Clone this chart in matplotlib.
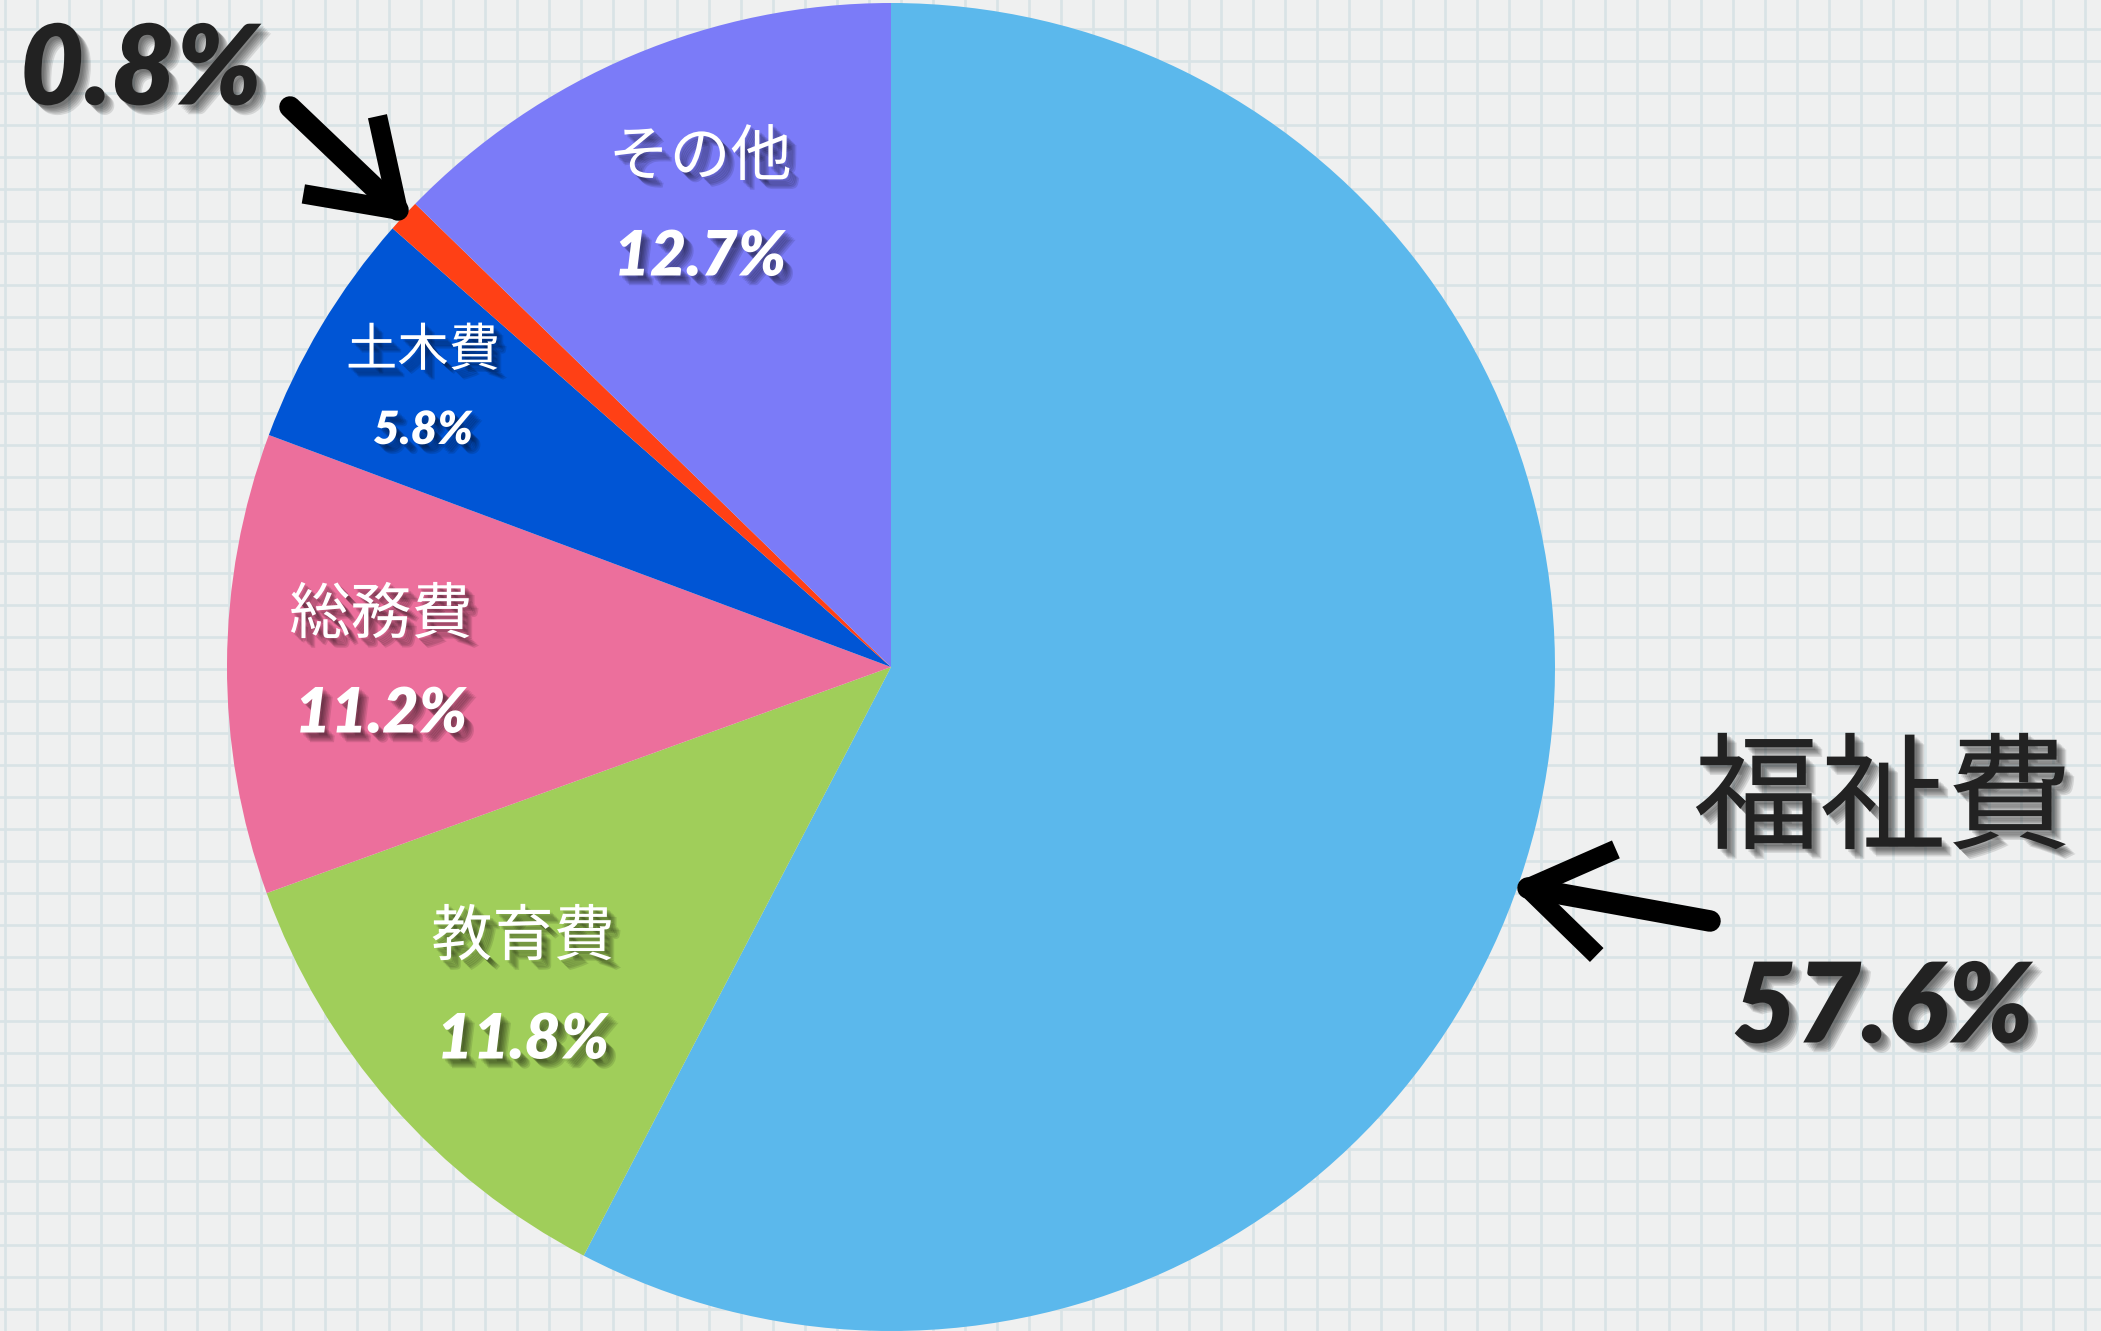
import matplotlib
matplotlib.use("Agg")
import matplotlib.pyplot as plt
import matplotlib.patheffects as pe
import numpy as np

# ---- data ----
categories = ["福祉費", "教育費", "総務費", "土木費", "", "その他"]
shares = [57.6, 11.8, 11.2, 5.8, 0.8, 12.7]
pct_labels = ["57.6%", "11.8%", "11.2%", "5.8%", "0.8%", "12.7%"]
colors = ["#5BB8EC", "#A0CE5A", "#EC6F9C", "#0055D5", "#FF4015", "#7B7BF8"]

W, H = 2101, 1331
fig = plt.figure(figsize=(W / 100, H / 100), dpi=100)
fig.patch.set_facecolor("#EFF0F0")
ax = fig.add_axes([0, 0, 1, 1])

# grid paper background
for x in np.arange(5, W, 32):
    ax.axvline(x, color="#D9E3E6", lw=1.9, zorder=0)
for yy in np.arange(29, H, 32):
    ax.axhline(H - yy, color="#D9E3E6", lw=1.9, zorder=0)

cx, cy, R = 891, H - 667, 664
wedges, _ = ax.pie(shares, colors=colors, startangle=90, counterclock=False,
                   center=(cx, cy), radius=R, frame=True,
                   wedgeprops=dict(linewidth=0))
ax.set_xlim(0, W)
ax.set_ylim(0, H)
ax.set_aspect("equal")
ax.axis("off")

jp = ["Noto Sans CJK JP", "DejaVu Sans"]
num = ["Lato", "DejaVu Sans"]

def shadow(strength=0.11):
    eff = []
    for d in (2, 3, 4, 5, 6, 7):
        eff.append(pe.SimplePatchShadow(offset=(d, -d), shadow_rgbFace="black",
                                        alpha=strength))
    eff.append(pe.Normal())
    return eff

# label positions (pixel coords from top)
name_pos = {"福祉費": (1883, 803, 91, "#222222"),
            "教育費": (523, 938, 44, "white"),
            "総務費": (381, 616, 44, "white"),
            "土木費": (423, 351, 37, "white"),
            "その他": (700, 158, 44, "white")}
pct_pos = [(1883, 1010, 80, "#222222"),
           (523, 1040, 45, "white"),
           (381, 714, 45, "white"),
           (423, 431, 33, "white"),
           (141, 72, 80, "#222222"),
           (700, 257, 45, "white")]

for cat in categories:
    if not cat:
        continue
    x, y, fs, c = name_pos[cat]
    ax.text(x, H - y, cat, ha="center", va="center", fontsize=fs, color=c,
            family=jp, fontweight="normal", path_effects=shadow(), zorder=5)

for lab, (x, y, fs, c) in zip(pct_labels, pct_pos):
    ax.text(x, H - y, lab, ha="center", va="center", fontsize=fs, color=c,
            family=num, fontweight="heavy", style="italic",
            path_effects=shadow(), zorder=5)

# arrows (shaft + chevron head), pixel coords from top
def arrow(tail, tip, head_len=96, half_angle=34):
    x0, y0 = tail[0], H - tail[1]
    x1, y1 = tip[0], H - tip[1]
    ang = np.arctan2(y0 - y1, x0 - x1)
    a = np.deg2rad(half_angle)
    ax.plot([x0, x1], [y0, y1], color="black", lw=15.5,
            solid_capstyle="round", zorder=6)
    hx = [x1 + head_len * np.cos(ang + s * a) for s in (-1, 1)]
    hy = [y1 + head_len * np.sin(ang + s * a) for s in (-1, 1)]
    ax.plot([hx[0], x1, hx[1]], [hy[0], y1, hy[1]], color="black", lw=14,
            solid_capstyle="butt", solid_joinstyle="round", zorder=6)

arrow((290, 107), (398, 210))
arrow((1710, 921), (1528, 888))

fig.savefig("out.png", dpi=100, facecolor=fig.get_facecolor())
